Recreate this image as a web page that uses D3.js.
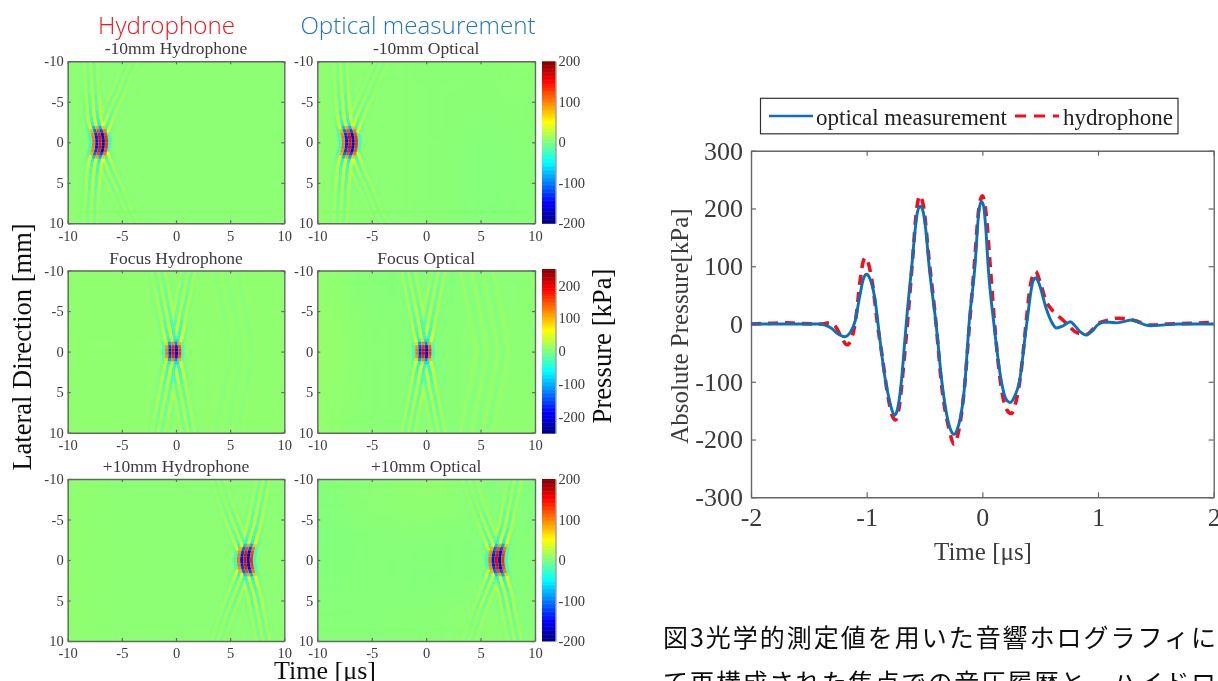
<!DOCTYPE html>
<html>
<head>
<meta charset="utf-8">
<script src="https://cdn.jsdelivr.net/npm/d3@7"></script>
<style>
html, body { margin: 0; padding: 0; background: #fff; overflow: hidden; }
svg { display: block; }
text { font-family: "Liberation Serif", serif; fill: #3a3a3a; }
</style>
</head>
<body>
<svg id="chart" width="1218" height="681"></svg>
<script>
const w = 1218;
const h = 681;

// heat map panels
const panelTitles = ["-10mm Hydrophone", "-10mm Optical", "Focus Hydrophone", "Focus Optical", "+10mm Hydrophone", "+10mm Optical"];
const pulseCentres = [-7.0, -7.0, -0.25, -0.25, 6.36, 6.44];
const panelRange = [200, 200, 250, 250, 200, 200];
const panelTicks = [-10, -5, 0, 5, 10];

// one wave packet at the centre of each panel (time offset, kPa)
const pulseOffsets = [-0.9, -0.6, -0.3, 0, 0.3, 0.6, 0.9];
const pulsePressures = [-35, 100, -150, 155, -170, 130, -35];

// how the fringes fade and bend away from the axis
const armLat = [0, 0.4, 0.8, 1.2, 1.6, 2, 2.5, 3, 4, 6, 8, 10];
const gainOffAxis = [1, 1, 0.95, 0.85, 0.65, 0.38, 0.28, 0.22, 0.17, 0.1, 0.07, 0.055];
const gainFocus = [1, 0.95, 0.75, 0.45, 0.3, 0.26, 0.23, 0.2, 0.14, 0.09, 0.07, 0.055];
const panelGain = [gainOffAxis, gainOffAxis, gainFocus, gainFocus, gainOffAxis, gainOffAxis];
const minusMain = [0, -0.02, -0.06, -0.14, -0.25, -0.35, -0.45, -0.52, -0.6, -0.72, -0.8, -0.9];
const minusSide = [0, 0.02, 0.05, 0.1, 0.2, 0.3, 0.45, 0.6, 0.9, 1.6, 2.2, 2.9];
const focusMain = [0, -0.01, -0.03, -0.08, -0.15, -0.22, -0.3, -0.38, -0.5, -0.8, -1.1, -1.4];
const focusSide = [0, 0.01, 0.03, 0.08, 0.15, 0.22, 0.3, 0.38, 0.5, 0.8, 1.1, 1.4];
const plusMain = [0, 0.02, 0.06, 0.14, 0.25, 0.35, 0.45, 0.55, 0.8, 1.1, 1.4, 1.7];
const plusSide = [0, -0.02, -0.05, -0.1, -0.2, -0.3, -0.45, -0.6, -0.9, -1.5, -2.0, -2.5];
const panelMain = [minusMain, minusMain, focusMain, focusMain, plusMain, plusMain];
const panelSide = [minusSide, minusSide, focusSide, focusSide, plusSide, plusSide];
const panelSideWeight = [0.5, 0.5, 1, 1, 0.6, 0.6];

// faint chevrons behind the focus panels
const rippleTimes = [4.6, 5.1, 5.6, 6.1, 6.6, 7.1, 7.6];
const ripplePressures = [5, -4, 5, -4, 5, -4, 5];
const rippleBend = [0, -0.05, -0.1, -0.15, -0.2, -0.25, -0.32, -0.4, -0.55, -0.85, -1.15, -1.45];
const panelRippleGain = [0, 0, 0.5, 1.2, 0, 0];

// slow background drift in each panel, kPa, rows by lateral, columns by time
const gridTimes = [-16, -7, -2, 3, 7, 16];
const gridLats = [-16, -5, 0, 5, 16];
const driftHydroMinus = [[5, 5, 5, 5, 5], [5, 5, 5, 5, 5], [5, 5, 5, 5, 5], [5, 5, 5, 5, 5]];
const driftOpticalMinus = [[6, 5, 4, 4, 5], [6, 5, 4, 3, 4], [6, 5, 4, 2, 3], [6, 5, 4, 2, 3]];
const driftHydroFocus = [[6, 6, 6, 6, 6], [6, 6, 6, 6, 6], [6, 6, 6, 6, 6], [6, 6, 6, 6, 6]];
const driftOpticalFocus = [[7, 3, 2, 4, 5], [8, 4, 3, 5, 5], [8, 4, 3, 5, 5], [7, 4, 3, 5, 6]];
const driftHydroPlus = [[6, 5, 5, 5, 5], [6, 5, 5, 5, 5], [6, 5, 5, 5, 5], [6, 5, 5, 5, 5]];
const driftOpticalPlus = [[2, 5, 7, 3, 2], [1, 3, 3, 2, 3], [2, 3, 2, 3, 3], [3, 3, 4, 6, 3]];
const panelDrift = [driftHydroMinus, driftOpticalMinus, driftHydroFocus, driftOpticalFocus, driftHydroPlus, driftOpticalPlus];

// colour bars
const barTicks200 = [-200, -100, 0, 100, 200];

// line chart
const opticalTime = [-2, -1.6, -1.42, -1.36, -1.3, -1.25, -1.19, -1.14, -1.1, -1.06, -1.025, -1, -0.975, -0.93, -0.885, -0.84, -0.8, -0.78, -0.76, -0.74, -0.7, -0.67, -0.645, -0.61, -0.58, -0.56, -0.537, -0.515, -0.49, -0.46, -0.4, -0.35, -0.3, -0.27, -0.245, -0.22, -0.15, -0.115, -0.064, -0.03, -0.01, 0.01, 0.03, 0.05, 0.1, 0.165, 0.2, 0.24, 0.28, 0.32, 0.383, 0.44, 0.464, 0.49, 0.555, 0.6, 0.64, 0.7, 0.76, 0.8, 0.85, 0.9, 0.95, 1, 1.05, 1.1, 1.16, 1.22, 1.29, 1.35, 1.4, 1.46, 1.55, 1.7, 2];
const opticalPressure = [0, 0, 0, -2, -8, -17, -22, -14, 5, 48, 80, 86, 80, 45, -28, -95, -135, -150, -158, -152, -100, -28, 30, 100, 165, 195, 204, 197, 165, 100, 0, -100, -165, -185, -191, -184, -100, 0, 100, 195, 212, 205, 165, 100, 0, -100, -128, -136, -125, -100, 0, 75, 80, 70, 25, 3, -7, -3, 4, -3, -14, -19, -12, -1, 3, 3, 2, 4, 7, 3, -1, -3, -2, 0, 0];
const hydroTime = [-2, -1.85, -1.7, -1.6, -1.4, -1.32, -1.27, -1.22, -1.17, -1.13, -1.09, -1.06, -1.03, -1.01, -0.99, -0.95, -0.9, -0.87, -0.82, -0.78, -0.75, -0.72, -0.68, -0.64, -0.6, -0.57, -0.54, -0.51, -0.46, -0.4, -0.35, -0.29, -0.245, -0.21, -0.15, -0.115, -0.07, -0.03, 0, 0.03, 0.07, 0.11, 0.16, 0.21, 0.25, 0.29, 0.33, 0.38, 0.41, 0.44, 0.46, 0.5, 0.55, 0.6, 0.66, 0.7, 0.75, 0.8, 0.85, 0.9, 0.96, 1.02, 1.08, 1.16, 1.25, 1.35, 1.45, 1.6, 1.8, 2];
const hydroPressure = [0, 1, 2, 1, 0, 2, -4, -22, -36, -25, 15, 70, 108, 115, 108, 70, -10, -50, -120, -158, -166, -145, -70, 20, 120, 195, 222, 205, 110, 0, -110, -180, -208, -190, -100, -10, 100, 200, 222, 195, 95, -10, -105, -148, -155, -135, -90, 5, 60, 86, 91, 72, 40, 25, 13, 6, -4, -13, -17, -18, -8, 3, 6, 10, 9, 4, -2, 0, 1, 3];
const lineTimeTicks = [-2, -1, 0, 1, 2];
const linePressureTicks = [-300, -200, -100, 0, 100, 200, 300];

const captionLine1 = "図3光学的測定値を用いた音響ホログラフィに";
const captionLine2 = "て再構成された焦点での音圧履歴と，ハイドロ";

const svg = d3.select("#chart");
const defs = svg.append("defs");
defs.append("filter").attr("id", "soft").attr("filterUnits", "userSpaceOnUse").attr("x", 0).attr("y", 0).attr("width", w).attr("height", h)
    .append("feGaussianBlur").attr("stdDeviation", 0.45);
defs.append("filter").attr("id", "fringe").attr("filterUnits", "userSpaceOnUse").attr("x", 0).attr("y", 0).attr("width", w).attr("height", h)
    .append("feGaussianBlur").attr("stdDeviation", 0.4);
defs.append("filter").attr("id", "drift").attr("filterUnits", "userSpaceOnUse").attr("x", 0).attr("y", 0).attr("width", w).attr("height", h)
    .append("feGaussianBlur").attr("stdDeviation", 14);

const root = svg.append("g").attr("filter", "url(#soft)");

//jet colormap
const jetStops = [0, 0.125, 0.375, 0.625, 0.875, 1];
const jetColors = ["#000080", "#0000ff", "#00ffff", "#ffff00", "#ff0000", "#800000"];
function jetScale(range) {
    return d3.scaleLinear()
        .domain(jetStops.map(d => -range + d * 2 * range))
        .range(jetColors)
        .clamp(true);
}

//panel positions
const colX = [[67.7, 284.3], [317.3, 535]];
const rowY = [[61.3, 223.3], [270.5, 432.7], [479, 641]];

function boxAxes(g, x, y, fontSize, tickLen, xTicks, yTicks, padX, padY) {
    const [x0, x1] = x.range();
    const top = Math.min(...y.range()), bottom = Math.max(...y.range());
    const style = sel => {
        sel.selectAll("path").attr("stroke", "#666").attr("stroke-width", 1.4);
        sel.selectAll("line").attr("stroke", "#666").attr("stroke-width", 1.2);
        sel.selectAll("text").style("font-family", '"Liberation Serif", serif').style("font-size", fontSize + "px").style("fill", "#3a3a3a");
    };
    g.append("g").attr("transform", `translate(0,${bottom})`)
        .call(d3.axisBottom(x).tickValues(xTicks).tickFormat(String).tickSizeInner(-tickLen).tickSizeOuter(0).tickPadding(padX)).call(style);
    g.append("g").attr("transform", `translate(0,${top})`)
        .call(d3.axisTop(x).tickValues(xTicks).tickSizeInner(-tickLen).tickSizeOuter(0).tickFormat("")).call(style);
    g.append("g").attr("transform", `translate(${x0},0)`)
        .call(d3.axisLeft(y).tickValues(yTicks).tickFormat(String).tickSizeInner(-tickLen).tickSizeOuter(0).tickPadding(padY)).call(style);
    g.append("g").attr("transform", `translate(${x1},0)`)
        .call(d3.axisRight(y).tickValues(yTicks).tickSizeInner(-tickLen).tickSizeOuter(0).tickFormat("")).call(style);
}

panelTitles.forEach((title, i) => {
    const col = i % 2, row = Math.floor(i / 2);
    const x = d3.scaleLinear().domain([-10, 10]).range(colX[col]);
    const y = d3.scaleLinear().domain([-10, 10]).range(rowY[row]);
    const color = jetScale(panelRange[i]);
    const boost = panelRange[i] / 200;
    const g = root.append("g");
    const clipId = "clip" + i;
    defs.append("clipPath").attr("id", clipId).append("rect")
        .attr("x", x(-10)).attr("y", y(-10)).attr("width", x(10) - x(-10)).attr("height", y(10) - y(-10));

    const plot = g.append("g").attr("clip-path", `url(#${clipId})`);
    plot.append("rect").attr("x", x(-10)).attr("y", y(-10)).attr("width", x(10) - x(-10)).attr("height", y(10) - y(-10))
        .attr("fill", color(5 * boost));

    //background drift cells
    const cells = [];
    panelDrift[i].forEach((rowVals, r) => rowVals.forEach((v, c) => cells.push({r, c, v})));
    plot.append("g").attr("filter", "url(#drift)").selectAll("rect").data(cells).enter().append("rect")
        .attr("x", d => x(gridTimes[d.c]))
        .attr("y", d => y(gridLats[d.r]))
        .attr("width", d => x(gridTimes[d.c + 1]) - x(gridTimes[d.c]))
        .attr("height", d => y(gridLats[d.r + 1]) - y(gridLats[d.r]))
        .attr("fill", d => color(d.v * boost));

    //fringes, one short segment at a time so the colour can fade along it
    const segs = [];
    const gain = panelGain[i];
    [-1, 1].forEach(side => {
        for (let k = 0; k < armLat.length - 1; k++) {
            const midGain = (gain[k] + gain[k + 1]) / 2;
            pulseOffsets.forEach((off, s) => {
                const t = pulseCentres[i] + off;
                const base = {l0: side * armLat[k], l1: side * armLat[k + 1]};
                segs.push({...base, t0: t + panelMain[i][k], t1: t + panelMain[i][k + 1], p: pulsePressures[s] * midGain * boost});
                //second arm of the X only leaves the core further out
                if (armLat[k] >= 1.2) {
                    segs.push({...base, t0: t + panelSide[i][k], t1: t + panelSide[i][k + 1], p: pulsePressures[s] * midGain * boost * panelSideWeight[i]});
                }
            });
            if (panelRippleGain[i] > 0) {
                rippleTimes.forEach((t, s) => {
                    segs.push({l0: side * armLat[k], l1: side * armLat[k + 1], t0: t + rippleBend[k], t1: t + rippleBend[k + 1], p: ripplePressures[s] * panelRippleGain[i]});
                });
            }
        }
    });
    segs.sort((a, b) => Math.abs(a.p) - Math.abs(b.p));
    plot.append("g").attr("filter", "url(#fringe)").selectAll("line").data(segs).enter().append("line")
        .attr("x1", d => x(d.t0)).attr("y1", d => y(d.l0))
        .attr("x2", d => x(d.t1)).attr("y2", d => y(d.l1))
        .attr("stroke", d => color(d.p + 5 * boost))
        .attr("stroke-width", 3)
        .attr("stroke-linecap", "butt");

    boxAxes(g, x, y, 14.5, 3, panelTicks, panelTicks, 7, 4);

    g.append("text").attr("x", (x(-10) + x(10)) / 2).attr("y", y(-10) - 7)
        .attr("text-anchor", "middle").style("font-size", "17.5px").text(title);
});

//colour bars
rowY.forEach((r, row) => {
    const range = row === 1 ? 250 : 200;
    const barY = d3.scaleLinear().domain([-range, range]).range([r[1] + (row === 1 ? 0.5 : 0), r[0] - (row === 1 ? 1.5 : 0)]);
    const color = jetScale(range);
    const steps = d3.range(-range, range, range / 60);
    const g = root.append("g");
    g.selectAll("rect").data(steps).enter().append("rect")
        .attr("x", 542).attr("width", 13.5)
        .attr("y", d => barY(d + range / 60))
        .attr("height", d => barY(d) - barY(d + range / 60) + 0.5)
        .attr("fill", d => color(d));
    const ax = g.append("g").attr("transform", "translate(555.5,0)")
        .call(d3.axisRight(barY).tickValues(barTicks200).tickFormat(String).tickSizeInner(0).tickSizeOuter(0).tickPadding(3));
    ax.select("path").attr("stroke", "#777");
    ax.selectAll("text").style("font-family", '"Liberation Serif", serif').style("font-size", "14.5px").style("fill", "#3a3a3a");
});

//headers and shared labels
const sans = '"Open Sans", "Noto Sans", sans-serif';
root.append("text").attr("x", 166.5).attr("y", 34).attr("text-anchor", "middle")
    .style("font-family", sans).style("font-weight", 300).style("font-size", "24.2px").style("fill", "#f5141e").text("Hydrophone");
root.append("text").attr("x", 418).attr("y", 34).attr("text-anchor", "middle")
    .style("font-family", sans).style("font-weight", 300).style("font-size", "24.2px").style("fill", "#1a75c4").text("Optical measurement");
root.append("text").attr("transform", "translate(31,347) rotate(-90)").attr("text-anchor", "middle")
    .style("font-size", "26.5px").style("fill", "#111").text("Lateral Direction [mm]");
root.append("text").attr("x", 325).attr("y", 679).attr("text-anchor", "middle")
    .style("font-size", "26px").style("fill", "#111").text("Time [μs]");
root.append("text").attr("transform", "translate(611,346) rotate(-90)").attr("text-anchor", "middle")
    .style("font-size", "26.7px").style("fill", "#111").text("Pressure [kPa]");

//line chart
const lx = d3.scaleLinear().domain([-2, 2]).range([751, 1213.7]);
const ly = d3.scaleLinear().domain([-300, 300]).range([497.3, 150.7]);
const lineG = root.append("g");
boxAxes(lineG, lx, ly, 26, 5, lineTimeTicks, linePressureTicks, 10, 8);

const lineGen = d3.line().x(d => lx(d[0])).y(d => ly(d[1])).curve(d3.curveMonotoneX);
const hydroPts = d3.zip(hydroTime, hydroPressure);
const opticalPts = d3.zip(opticalTime, opticalPressure);
lineG.append("path").datum(hydroPts).attr("d", lineGen).attr("fill", "none")
    .attr("stroke", "#f5101e").attr("stroke-width", 3.6).attr("stroke-dasharray", "10 7");
lineG.append("path").datum(opticalPts).attr("d", lineGen).attr("fill", "none")
    .attr("stroke", "#0b70b8").attr("stroke-width", 2.9);

lineG.append("text").attr("transform", "translate(688,326) rotate(-90)").attr("text-anchor", "middle")
    .style("font-size", "25px").text("Absolute Pressure[kPa]");
lineG.append("text").attr("x", 983).attr("y", 560).attr("text-anchor", "middle")
    .style("font-size", "25px").text("Time [μs]");

//legend
const legend = root.append("g");
legend.append("rect").attr("x", 760.5).attr("y", 98.3).attr("width", 417.5).attr("height", 35.5)
    .attr("fill", "#fff").attr("stroke", "#333").attr("stroke-width", 1.2);
legend.append("line").attr("x1", 769).attr("x2", 813).attr("y1", 116).attr("y2", 116)
    .attr("stroke", "#0b70b8").attr("stroke-width", 2.6);
legend.append("line").attr("x1", 1015).attr("x2", 1059).attr("y1", 116).attr("y2", 116)
    .attr("stroke", "#f5101e").attr("stroke-width", 3).attr("stroke-dasharray", "11 8");
legend.append("text").attr("x", 816).attr("y", 125).style("font-size", "23px").style("fill", "#222").text("optical measurement");
legend.append("text").attr("x", 1063).attr("y", 125).style("font-size", "23px").style("fill", "#222").text("hydrophone");

//caption
const cjk = '"Noto Sans CJK JP", sans-serif';
root.append("text").attr("x", 663).attr("y", 647).style("font-family", cjk).style("font-size", "25px").style("fill", "#111")
    .attr("textLength", 553).attr("lengthAdjust", "spacing").text(captionLine1);
root.append("text").attr("x", 663).attr("y", 692).style("font-family", cjk).style("font-size", "25px").style("fill", "#111")
    .attr("textLength", 553).attr("lengthAdjust", "spacing").text(captionLine2);
</script>
</body>
</html>
